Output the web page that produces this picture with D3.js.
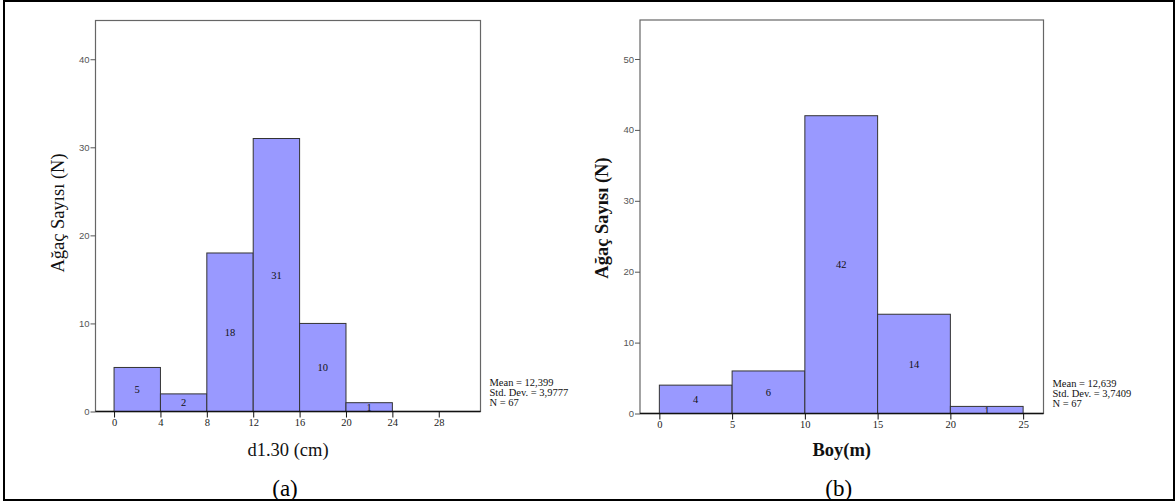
<!DOCTYPE html>
<html>
<head>
<meta charset="utf-8">
<script src="https://cdn.jsdelivr.net/npm/d3@7"></script>
<style>
  html, body { margin: 0; padding: 0; background: #fff; }
  svg { display: block; }
</style>
</head>
<body>
<svg id="chart" width="1176" height="504"></svg>
<script>
// Diameter at breast height (d1.30, cm) histogram
const dbhBinStarts = [0, 4, 8, 12, 16, 20];
const dbhBinWidth = 4;
const dbhCounts = [5, 2, 18, 31, 10, 1];
const dbhTicksX = [0, 4, 8, 12, 16, 20, 24, 28];
const dbhTicksY = [0, 10, 20, 30, 40];
const dbhStats = ["Mean = 12,399", "Std. Dev. = 3,9777", "N = 67"];

// Tree height (Boy, m) histogram
const heightBinStarts = [0, 5, 10, 15, 20];
const heightBinWidth = 5;
const heightCounts = [4, 6, 42, 14, 1];
const heightTicksX = [0, 5, 10, 15, 20, 25];
const heightTicksY = [0, 10, 20, 30, 40, 50];
const heightStats = ["Mean = 12,639", "Std. Dev. = 3,7409", "N = 67"];

const yTitle = "Ağaç Sayısı (N)";

const svg = d3.select("#chart");
const serif = "'Liberation Serif', 'Times New Roman', serif";
const sans = "'Liberation Sans', Arial, sans-serif";

// outer frame around both panels
svg.append("rect")
  .attr("x", 4).attr("y", 1)
  .attr("width", 1170).attr("height", 499)
  .attr("fill", "none").attr("stroke", "#000").attr("stroke-width", 2);

function histogram(cfg) {
  const g = svg.append("g");
  const x = d3.scaleLinear().domain(cfg.xDomain).range([cfg.left, cfg.right]);
  const y = d3.scaleLinear().domain(cfg.yDomain).range([cfg.bottom, cfg.top]);

  // plot frame
  g.append("rect")
    .attr("x", cfg.left).attr("y", cfg.top)
    .attr("width", cfg.right - cfg.left).attr("height", cfg.bottom - cfg.top)
    .attr("fill", "#fff").attr("stroke", "#666").attr("stroke-width", 1.2);

  const bins = cfg.starts.map((s, i) => ({ x0: s, x1: s + cfg.width, n: cfg.counts[i] }));

  g.selectAll("rect.bar").data(bins).join("rect")
    .attr("class", "bar")
    .attr("x", d => x(d.x0))
    .attr("y", d => y(d.n))
    .attr("width", d => x(d.x1) - x(d.x0))
    .attr("height", d => y(0) - y(d.n))
    .attr("fill", "#9999ff")
    .attr("stroke", "#333")
    .attr("stroke-width", 1);

  g.selectAll("text.count").data(bins).join("text")
    .attr("class", "count")
    .attr("x", d => (x(d.x0) + x(d.x1)) / 2)
    .attr("y", d => (y(0) + y(d.n)) / 2)
    .attr("dy", "0.35em")
    .attr("text-anchor", "middle")
    .attr("font-family", serif).attr("font-size", 10.5)
    .attr("fill", "#111")
    .text(d => d.n);

  // baseline
  g.append("line")
    .attr("x1", cfg.left).attr("x2", cfg.right)
    .attr("y1", y(0)).attr("y2", y(0))
    .attr("stroke", "#111").attr("stroke-width", 1.5);

  // y axis
  const ya = g.append("g")
    .attr("transform", `translate(${cfg.left},0)`)
    .call(d3.axisLeft(y).tickValues(cfg.ticksY).tickSize(5).tickPadding(1).tickFormat(d3.format("d")));
  ya.select(".domain").remove();
  ya.selectAll(".tick line").attr("stroke", "#555");
  ya.selectAll(".tick text").attr("font-family", sans).attr("font-size", 9.5).attr("fill", "#555");

  // x axis
  const xa = g.append("g")
    .attr("transform", `translate(0,${y(0)})`)
    .call(d3.axisBottom(x).tickValues(cfg.ticksX).tickSize(6).tickPadding(1).tickFormat(d3.format("d")));
  xa.select(".domain").remove();
  xa.selectAll(".tick line").attr("stroke", "#111");
  xa.selectAll(".tick text").attr("font-family", serif).attr("font-size", 10.5).attr("fill", "#222");

  // y title
  g.append("text")
    .attr("transform", `translate(${cfg.yTitleX},${cfg.yTitleY}) rotate(-90)`)
    .attr("text-anchor", "middle").attr("dy", "0.35em")
    .attr("font-family", serif).attr("font-size", 18.5)
    .attr("font-weight", cfg.bold ? "bold" : "normal")
    .attr("fill", "#111")
    .text(yTitle);

  // x title
  g.append("text")
    .attr("x", (cfg.left + cfg.right) / 2).attr("y", 450)
    .attr("text-anchor", "middle").attr("dy", "0.35em")
    .attr("font-family", serif).attr("font-size", 18.5)
    .attr("font-weight", cfg.bold ? "bold" : "normal")
    .attr("fill", "#111")
    .text(cfg.xTitle);

  // panel letter
  g.append("text")
    .attr("x", (cfg.left + cfg.right) / 2 - 3).attr("y", 488)
    .attr("text-anchor", "middle").attr("dy", "0.35em")
    .attr("font-family", serif).attr("font-size", 23)
    .attr("fill", "#000")
    .text(cfg.letter);

  // summary statistics
  g.selectAll("text.stat").data(cfg.stats).join("text")
    .attr("class", "stat")
    .attr("x", cfg.right + 9)
    .attr("y", (d, i) => cfg.statY + i * 10)
    .attr("font-family", serif).attr("font-size", 10.5)
    .attr("fill", "#111")
    .text(d => d);
}

histogram({
  starts: dbhBinStarts, width: dbhBinWidth, counts: dbhCounts,
  ticksX: dbhTicksX, ticksY: dbhTicksY, stats: dbhStats,
  xDomain: [-1.6, 31.6], yDomain: [0, 44.4],
  left: 95.5, right: 480.5, top: 20.5, bottom: 411.5,
  yTitleX: 58, yTitleY: 213, xTitle: "d1.30 (cm)", letter: "(a)",
  statY: 386, bold: false
});

histogram({
  starts: heightBinStarts, width: heightBinWidth, counts: heightCounts,
  ticksX: heightTicksX, ticksY: heightTicksY, stats: heightStats,
  xDomain: [-1.33, 26.4], yDomain: [0, 55.5],
  left: 640, right: 1043.5, top: 20, bottom: 413.5,
  yTitleX: 602, yTitleY: 218, xTitle: "Boy(m)", letter: "(b)",
  statY: 387, bold: true
});
</script>
</body>
</html>
